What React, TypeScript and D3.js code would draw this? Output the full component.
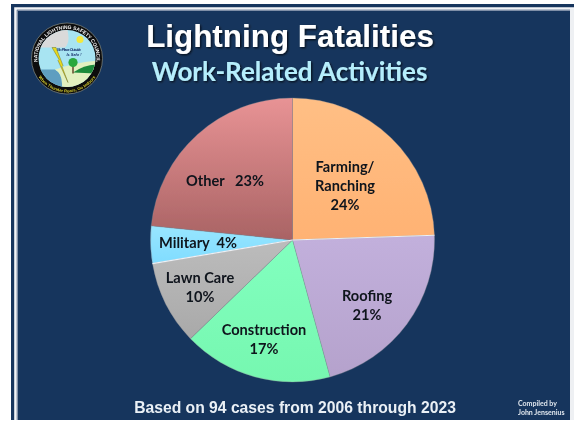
import React from "react";
import * as d3 from "d3";

const categories = ["Farming/Ranching", "Roofing", "Construction", "Lawn Care", "Military", "Other"];
const cases = [23, 20, 16, 9, 4, 22];
const labelLines = [
  ["Farming/", "Ranching", "24%"],
  ["Roofing", "21%"],
  ["Construction", "17%"],
  ["Lawn Care", "10%"],
  ["Military  4%"],
  ["Other   23%"],
];
const titleText = "Lightning Fatalities";
const subtitleText = "Work-Related Activities";
const footerText = "Based on 94 cases from 2006 through 2023";
const creditLines = ["Compiled by", "John Jensenius"];
const sliceFills = ["url(#gOrange)", "url(#gPurple)", "url(#gGreen)", "url(#gGrey)", "url(#gBlue)", "url(#gRed)"];
const labelCenters = [[345, 167], [367, 296], [264, 330], [200, 278], [198, 243], [225, 181]];
const whiteDividers = [0, 3];

const W = 574, H = 425, CX = 292.5, CY = 240, R = 142;
const LABEL_FONT = "Lato, Carlito, sans-serif";
const ARIAL = "'Liberation Sans', Arial, sans-serif";

function Logo() {
  const cx = 67, cy = 58.5, r = 35.5;
  const rt = 29.6, rb = 34;
  return (
    <g>
      <defs>
        <clipPath id="logoClip"><circle cx={cx} cy={cy} r={r - 7} /></clipPath>
        <path id="logoTop" d={`M ${cx - rt * 0.94} ${cy + rt * 0.34} A ${rt} ${rt} 0 1 1 ${cx + rt * 0.94} ${cy + rt * 0.34}`} />
        <path id="logoBot" d={`M ${cx - rb * 0.92} ${cy + rb * 0.39} A ${rb} ${rb} 0 0 0 ${cx + rb * 0.92} ${cy + rb * 0.39}`} />
      </defs>
      <circle cx={cx} cy={cy} r={r} fill="#0c0c0c" stroke="#9a9a8a" strokeWidth={0.6} />
      <g clipPath="url(#logoClip)">
        <rect x={cx - r} y={cy - r} width={2 * r} height={2 * r} fill="#a8e4f2" />
        <path d={`M ${cx - r} ${cy - 11} L ${cx - 2} ${cy - 11} Q ${cx + 5} ${cy - 18} ${cx - 2} ${cy - 36} L ${cx - r} ${cy - 36} Z`} fill="#dadada" />
        <circle cx={cx + 13} cy={cy - 19} r={3.5} fill="#f4e83c" />
        <path d={`M ${cx - 36} ${cy + 11} L ${cx - 12} ${cy + 11} Q ${cx - 1} ${cy + 17} ${cx - 7} ${cy + 40} L ${cx - 36} ${cy + 40} Z`} fill="#5f9ec0" />
        <path d={`M ${cx - 12} ${cy + 11} Q ${cx + 8} ${cy + 4} ${cx + 32} ${cy + 2} L ${cx + 32} ${cy + 40} L ${cx - 7} ${cy + 40} Q ${cx - 1} ${cy + 17} ${cx - 12} ${cy + 11} Z`} fill="#e2f0c0" />
        <path d={`M ${cx + 6} ${cy + 14} Q ${cx + 18} ${cy + 6} ${cx + 32} ${cy + 6} L ${cx + 32} ${cy + 15} Z`} fill="#1f8a3a" />
        <rect x={cx + 5.3} y={cy + 6} width={1.4} height={9} fill="#5a3d20" />
        <circle cx={cx + 6} cy={cy + 4} r={4.6} fill="#2aa83c" />
        <path d={`M ${cx - 15} ${cy - 11} L ${cx - 8} ${cy + 1} L ${cx - 9} ${cy + 2} L ${cx + 1} ${cy + 24} L ${cx - 5} ${cy + 8} L ${cx - 4} ${cy + 7} L ${cx - 11} ${cy - 11} Z`} fill="#e6d820" stroke="#5a5a10" strokeWidth={0.4} />
        <text x={cx + 2} y={cy - 8} fontSize={3.9} fontStyle="italic" fontWeight={700} fontFamily={ARIAL} textAnchor="middle" fill="#16306a" textLength={24}>No Place Outside</text>
        <text x={cx + 7} y={cy - 3} fontSize={3.9} fontStyle="italic" fontWeight={700} fontFamily={ARIAL} textAnchor="middle" fill="#16306a">Is Safe !</text>
      </g>
      <text fontSize={5} fontWeight={700} fontFamily={ARIAL} fill="#f4f4f4">
        <textPath href="#logoTop" startOffset="50%" textAnchor="middle">NATIONAL LIGHTNING SAFETY COUNCIL</textPath>
      </text>
      <text fontSize={4.2} fontWeight={700} fontFamily={ARIAL} fill="#d8cf30">
        <textPath href="#logoBot" startOffset="50%" textAnchor="middle">When Thunder Roars, Go Indoors</textPath>
      </text>
    </g>
  );
}

export default function App() {
  const pie = d3.pie<number>().value((d) => d).sort(null);
  const arc = d3.arc<d3.PieArcDatum<number>>().innerRadius(0).outerRadius(R);
  const arcs = pie(cases);
  const grads: [string, string, string][] = [
    ["gOrange", "#ffbf85", "#ffb273"],
    ["gPurple", "#c2b0dc", "#b5a2cc"],
    ["gGreen", "#82ffbf", "#76f7b0"],
    ["gGrey", "#bcbcbc", "#a9a9a9"],
    ["gBlue", "#98e6ff", "#80dcff"],
    ["gRed", "#e89395", "#a96364"],
  ];
  return (
    <svg width={W} height={H} viewBox={`0 0 ${W} ${H}`} style={{ position: "absolute", left: 0, top: 0, display: "block" }}>
      <defs>
        {grads.map(([id, a, b]) => (
          <linearGradient key={id} id={id} x1="0" y1="0" x2="0" y2="1">
            <stop offset="0%" stopColor={a} />
            <stop offset="100%" stopColor={b} />
          </linearGradient>
        ))}
        <filter id="soft" x="-2%" y="-2%" width="104%" height="104%"><feGaussianBlur stdDeviation="0.35" /></filter>
        <filter id="shadow" x="-10%" y="-20%" width="120%" height="150%">
          <feDropShadow dx="1.2" dy="1.2" stdDeviation="0.9" floodColor="#000" floodOpacity="0.75" />
        </filter>
      </defs>
      <rect width={W} height={H} fill="#ffffff" />
      <g filter="url(#soft)">
        <rect x={11} y={4} width={W - 11} height={416} fill="#17365d" />
        <path d={`M 15.5 420 L 15.5 8.5 L ${W} 8.5`} fill="none" stroke="#f2f4f7" strokeWidth={2.6} />
        <path d={`M 17.4 420 L 17.4 10.4 L 570 10.4`} fill="none" stroke="#8c9bb0" strokeWidth={1} />
        <rect x={570} y={9} width={4} height={416} fill="#eef0f3" />
        <rect x={11} y={420} width={W - 11} height={5} fill="#ffffff" />

        <g transform={`translate(${CX},${CY})`}>
          {arcs.map((d, i) => (
            <path key={categories[i]} d={arc(d) ?? ""} fill={sliceFills[i]} stroke="#8d8d92" strokeWidth={0.6} strokeOpacity={0.55} />
          ))}
          {whiteDividers.map((i) => {
            const [x, y] = d3.pointRadial(arcs[i].endAngle, R);
            return <line key={i} x1={0} y1={0} x2={x} y2={y} stroke="#eef0f4" strokeWidth={1.2} />;
          })}
        </g>
        {labelLines.map((lines, i) => (
          <text key={i} fontFamily={LABEL_FONT} fontWeight={700} fontSize={14.6} fill="#10131c" textAnchor="middle" style={{ whiteSpace: "pre" }}>
            {lines.map((l, j) => (
              <tspan key={j} x={labelCenters[i][0]} y={labelCenters[i][1] + 5 + j * 18.8}>{l}</tspan>
            ))}
          </text>
        ))}
        <text x={290} y={47} textAnchor="middle" fontFamily={ARIAL} fontWeight={700} fontSize={31.4} fill="#ffffff" filter="url(#shadow)">{titleText}</text>
        <text x={289.5} y={81} textAnchor="middle" fontFamily={LABEL_FONT} fontWeight={700} fontSize={26} fill="#b5eefc" filter="url(#shadow)">{subtitleText}</text>
        <text x={295} y={413} textAnchor="middle" fontFamily={ARIAL} fontWeight={700} fontSize={15.7} fill="#eaf0f6">{footerText}</text>
        {creditLines.map((l, i) => (
          <text key={l} x={518} y={406 + i * 8.8} fontFamily={LABEL_FONT} fontWeight={700} fontSize={7} fill="#dfe6ee">{l}</text>
        ))}
        <Logo />
      </g>
    </svg>
  );
}
